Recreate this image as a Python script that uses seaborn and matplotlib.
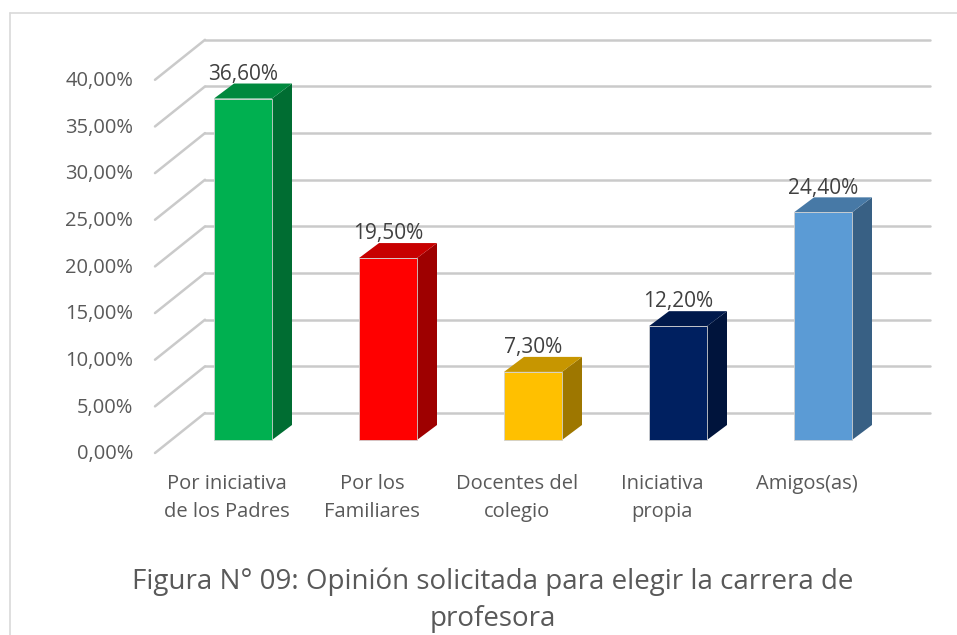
import matplotlib.pyplot as plt
import seaborn as sns
from matplotlib.patches import Polygon
from matplotlib.lines import Line2D
import matplotlib.colors as mcolors

# data
categories = ["Por iniciativa\nde los Padres", "Por los\nFamiliares", "Docentes del\ncolegio",
              "Iniciativa\npropia", "Amigos(as)"]
values = [36.6, 19.5, 7.3, 12.2, 24.4]
bar_colors = ["#00B050", "#FF0000", "#FFC000", "#002060", "#5B9BD5"]
y_ticks = [0, 5, 10, 15, 20, 25, 30, 35, 40]
caption = "Figura N° 09: Opinión solicitada para elegir la carrera de\nprofesora"


def pct(v):
    return f"{v:.2f}".replace(".", ",") + "%"


def shade(color, k):
    r, g, b = mcolors.to_rgb(color)
    return (r * k, g * k, b * k)


sns.set_style("white")
plt.rcParams["font.family"] = ["Open Sans", "DejaVu Sans"]

fig = plt.figure(figsize=(9.57, 6.35), dpi=100)
ax = fig.add_axes([140 / 957, 1 - 470 / 635, 800 / 957, 440 / 635])

sns.barplot(x=categories, y=values, hue=categories, palette=bar_colors, legend=False,
            width=0.4, saturation=1, edgecolor="#D0D0D0", linewidth=0.6, zorder=3, ax=ax)

# pixel -> data helpers (145 px per category, 9.33 px per percent)
px_x = 145.0
px_y = 9.33
ax.set_xlim((140 - 243) / px_x, (940 - 243) / px_x)
ax.set_ylim((440 - 470) / px_y, (440 - 30) / px_y)
ax.axis("off")

# 3D depth of bars and of the walls
bar_dx, bar_dy = 20 / px_x, 15 / px_y
wall_dy = 27 / px_y
front_dy = -13 / px_y
wall_x0, wall_x1 = (205 - 243) / px_x, (930 - 243) / px_x
front_x = (155 - 243) / px_x

for v in y_ticks:
    ax.add_line(Line2D([wall_x0, wall_x1], [v + wall_dy, v + wall_dy], color="#CACACA", lw=1.8, zorder=1))
    ax.add_line(Line2D([front_x, wall_x0], [v + front_dy, v + wall_dy], color="#CACACA", lw=1.8, zorder=1))
    ax.text(front_x - 22 / px_x, v + front_dy - 0.15, pct(v), ha="right", va="center",
            fontsize=14.5, color="#595959", clip_on=False)

for p, color, v in zip(ax.patches, bar_colors, values):
    x0, w, h = p.get_x(), p.get_width(), p.get_height()
    side = [(x0 + w, 0), (x0 + w + bar_dx, bar_dy), (x0 + w + bar_dx, h + bar_dy), (x0 + w, h)]
    top = [(x0, h), (x0 + w, h), (x0 + w + bar_dx, h + bar_dy), (x0 + bar_dx, h + bar_dy)]
    ax.add_patch(Polygon(side, closed=True, facecolor=shade(color, 0.62), edgecolor="none", zorder=2.9))
    ax.add_patch(Polygon(top, closed=True, facecolor=shade(color, 0.78), edgecolor="none", zorder=2.9))
    ax.text(x0 + w / 2, v + 2.6, pct(v), ha="center", va="center", fontsize=15,
            color="#404040", zorder=4)

for i, cat in enumerate(categories):
    ax.text(i - 16 / px_x, (440 - 474) / px_y, cat, ha="center", va="top", fontsize=14.5,
            color="#595959", linespacing=1.55, clip_on=False)

fig.text(493 / 957, 1 - 600 / 635, caption, ha="center", va="center", fontsize=20,
         color="#595959", linespacing=1.45)

# outer chart frame
fig.add_artist(Line2D([10 / 957, 1], [1 - 13 / 635, 1 - 13 / 635], transform=fig.transFigure,
                      color="#D9D9D9", lw=1.2))
fig.add_artist(Line2D([10 / 957, 10 / 957], [0, 1 - 13 / 635], transform=fig.transFigure,
                      color="#D9D9D9", lw=1.2))

fig.savefig("out.png", dpi=100)
